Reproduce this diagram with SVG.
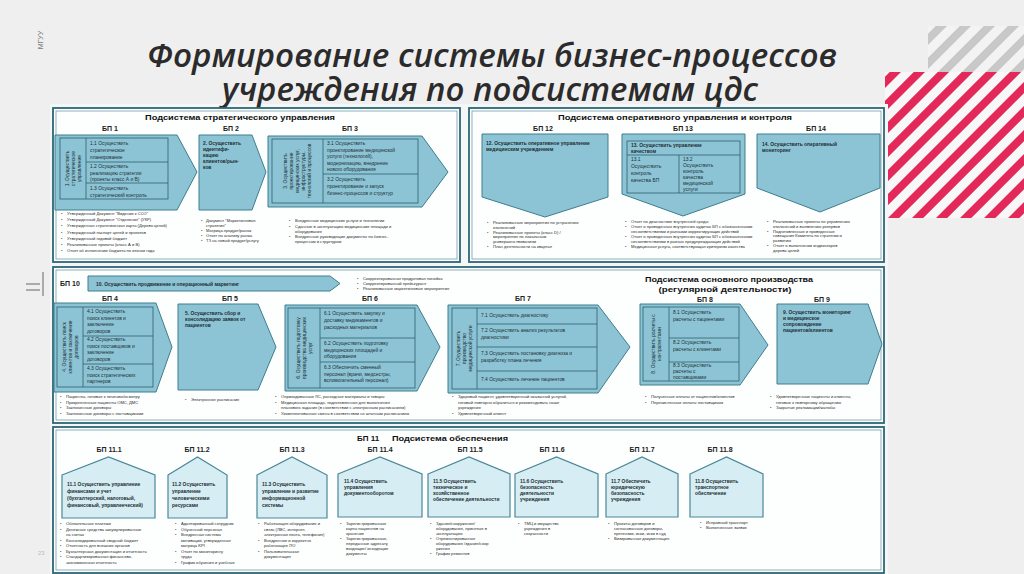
<svg xmlns="http://www.w3.org/2000/svg" width="1024" height="574" viewBox="0 0 1024 574">
<defs>
<style>
.f{font-family:"Liberation Sans",Arial,sans-serif}
.t{font-size:4.9px;fill:#1d2e33}
.tb{font-size:4.9px;font-weight:bold;fill:#1d2e33}
.bl{font-size:4.1px;fill:#2a2a2a}
.lbl{font-size:7px;font-weight:bold;fill:#222}
.hd{font-size:8px;font-weight:bold;fill:#111}
.pnl{fill:#fdfefe;stroke:#2d6776;stroke-width:1.8}
.pin{fill:none;stroke:#5f909c;stroke-width:0.7}
.sh{fill:#8cc4d5;stroke:#3d7e8e;stroke-width:1}
.in{fill:none;stroke:#2e5f6c;stroke-width:0.8}
.hs{fill:#d6edf4;stroke:#4a8797;stroke-width:1.2}
</style>
<pattern id="pg" width="17" height="17" patternUnits="userSpaceOnUse" patternTransform="rotate(45)">
<rect width="17" height="17" fill="#f3f3f3"/><rect width="8" height="17" fill="#c8c8c8"/>
</pattern>
<pattern id="pr" width="17" height="17" patternUnits="userSpaceOnUse" patternTransform="rotate(45)">
<rect width="17" height="17" fill="#f7f7f7"/><rect width="8" height="17" fill="#e3285a"/>
</pattern>
</defs>
<rect width="1024" height="574" fill="#efefef"/>
<g id="decor">
<rect x="928" y="26" width="96" height="76" fill="url(#pg)"/>
<rect x="885" y="72" width="139" height="146" fill="url(#pr)"/>
<text class="f" x="0" y="0" transform="translate(43,40) rotate(-90)" text-anchor="middle" font-size="7" fill="#777">МГУУ</text>
<line x1="26" y1="284" x2="40" y2="284" stroke="#666" stroke-width="1"/>
<line x1="26" y1="290" x2="40" y2="290" stroke="#666" stroke-width="1"/>
<line x1="43" y1="272" x2="43" y2="296" stroke="#666" stroke-width="1"/>
<text class="f" x="38" y="555" font-size="6" fill="#bbb">23</text>
</g>
<rect x="50" y="104" width="838" height="470" fill="#f5f6f6"/>
<g id="title" font-family="'Open Sans','Noto Sans',sans-serif" font-style="italic" font-weight="600" fill="#2b2b2b" font-size="33">
<text x="147" y="67" textLength="690" lengthAdjust="spacingAndGlyphs">Формирование системы бизнес-процессов</text>
<text x="222" y="101" textLength="536" lengthAdjust="spacingAndGlyphs">учреждения по подсистемам цдс</text>
</g>

<!-- Panels -->
<g id="panel-strategic">
<rect class="pnl" x="53" y="108" width="407" height="154"/>
<rect class="pin" x="56" y="111" width="401" height="148"/>
<text class="f hd" x="145" y="120" textLength="190" lengthAdjust="spacingAndGlyphs">Подсистема стратегического управления</text>
</g>
<g id="panel-operative">
<rect class="pnl" x="469" y="108" width="415" height="154"/>
<rect class="pin" x="472" y="111" width="409" height="148"/>
<text class="f hd" x="558" y="120" textLength="234" lengthAdjust="spacingAndGlyphs">Подсистема оперативного управления и контроля</text>
</g>
<g id="panel-main">
<rect class="pnl" x="53" y="267" width="831" height="156"/>
<rect class="pin" x="56" y="270" width="825" height="150"/>
<text class="f hd" x="729" y="282" text-anchor="middle" textLength="168" lengthAdjust="spacingAndGlyphs">Подсистема основного производства</text>
<text class="f hd" x="725" y="292" text-anchor="middle" textLength="133" lengthAdjust="spacingAndGlyphs">(регулярной деятельности)</text>
</g>
<g id="panel-support">
<rect class="pnl" x="53" y="427" width="831" height="146"/>
<rect class="pin" x="56" y="430" width="825" height="140"/>
<text class="f hd" x="357" y="441" font-size="8.5">БП 11</text>
<text class="f hd" x="392" y="441" font-size="8.5" textLength="116" lengthAdjust="spacingAndGlyphs">Подсистема обеспечения</text>
</g>

<!-- BP1 -->
<g id="bp1">
<text class="f lbl" x="110" y="131" text-anchor="middle">БП 1</text>
<polygon class="sh" points="55,135 177,135 197,172 177,210 55,210"/>
<rect class="in" x="60" y="138" width="108" height="61"/>
<line class="in" x1="86" y1="138" x2="86" y2="199"/>
<line class="in" x1="86" y1="162" x2="168" y2="162"/>
<line class="in" x1="86" y1="183" x2="168" y2="183"/>
<text class="f t" transform="translate(73,168.5) rotate(-90)" text-anchor="middle"><tspan x="0" y="-4.5">1. Осуществить</tspan><tspan x="0" y="1.5">стратегическое</tspan><tspan x="0" y="7.5">управление</tspan></text>
<text class="f t"><tspan x="90" y="145">1.1 Осуществить</tspan><tspan x="90" y="152">стратегическое</tspan><tspan x="90" y="159">планирование</tspan>
<tspan x="90" y="168">1.2 Осуществить</tspan><tspan x="90" y="174.5">реализацию стратегии</tspan><tspan x="90" y="181">(проекты класс А и В)</tspan>
<tspan x="90" y="190">1.3 Осуществить</tspan><tspan x="90" y="196.5">стратегический контроль</tspan></text>
<text class="f bl"><tspan x="61" y="215">•</tspan><tspan x="67" y="215">Утвержденный Документ "Видение к ССО"</tspan>
<tspan x="61" y="221.2">•</tspan><tspan x="67" y="221.2">Утвержденный Документ "Отделения" (УКР)</tspan>
<tspan x="61" y="227.4">•</tspan><tspan x="67" y="227.4">Утвержденная стратегическая карта (Дерево целей)</tspan>
<tspan x="61" y="233.6">•</tspan><tspan x="67" y="233.6">Утвержденный паспорт целей и проектов</tspan>
<tspan x="61" y="239.8">•</tspan><tspan x="67" y="239.8">Утвержденный годовой бюджет</tspan>
<tspan x="61" y="246">•</tspan><tspan x="67" y="246">Реализованные проекты (класс А и В)</tspan>
<tspan x="61" y="252.2">•</tspan><tspan x="67" y="252.2">Отчет об исполнении бюджета по итогам года</tspan></text>
</g>

<!-- BP2 -->
<g id="bp2">
<text class="f lbl" x="231" y="131" text-anchor="middle">БП 2</text>
<polygon class="sh" points="199,135 252,135 266,172 252,210 199,210"/>
<text class="f tb"><tspan x="203" y="145">2. Осуществить</tspan><tspan x="203" y="151">идентифи-</tspan><tspan x="203" y="157">кацию</tspan><tspan x="203" y="163">клиентов/рын-</tspan><tspan x="203" y="169">ков</tspan></text>
<text class="f bl"><tspan x="201" y="222">•</tspan><tspan x="206" y="222">Документ "Маркетинговая</tspan><tspan x="206" y="227">стратегия"</tspan>
<tspan x="201" y="232">•</tspan><tspan x="206" y="232">Матрица продукт/рынок</tspan>
<tspan x="201" y="237">•</tspan><tspan x="206" y="237">Отчет по анализу рынка</tspan>
<tspan x="201" y="242">•</tspan><tspan x="206" y="242">ТЗ на новый продукт/услугу</tspan></text>
</g>

<!-- BP3 -->
<g id="bp3">
<text class="f lbl" x="350" y="131" text-anchor="middle">БП 3</text>
<polygon class="sh" points="268,136 422,136 448,172 422,207 268,207"/>
<rect class="in" x="272" y="139" width="146" height="64"/>
<line class="in" x1="323" y1="139" x2="323" y2="203"/>
<line class="in" x1="323" y1="174" x2="418" y2="174"/>
<text class="f t" transform="translate(297.5,171) rotate(-90)" text-anchor="middle"><tspan x="0" y="-10.5">3. Осуществить</tspan><tspan x="0" y="-4.5">проектирование</tspan><tspan x="0" y="1.5">медицинских услуг,</tspan><tspan x="0" y="7.5">инфраструктуры,</tspan><tspan x="0" y="13.5">технологий и процессов</tspan></text>
<text class="f t"><tspan x="327" y="145">3.1 Осуществить</tspan><tspan x="327" y="151.5">проектирование медицинской</tspan><tspan x="327" y="158">услуги (технологий),</tspan><tspan x="327" y="164.5">модернизацию, внедрение</tspan><tspan x="327" y="171">нового оборудования</tspan>
<tspan x="327" y="181">3.2 Осуществить</tspan><tspan x="327" y="188">проектирование и запуск</tspan><tspan x="327" y="195">бизнес-процессов и структур</tspan></text>
<text class="f bl"><tspan x="289" y="222">•</tspan><tspan x="295" y="222">Внедренные медицинские услуги и технологии</tspan>
<tspan x="289" y="227.5">•</tspan><tspan x="295" y="227.5">Сданные в эксплуатацию медицинские площади и</tspan><tspan x="295" y="232.5">оборудование</tspan>
<tspan x="289" y="238">•</tspan><tspan x="295" y="238">Внедренные руководящие документы по бизнес-</tspan><tspan x="295" y="243">процессам и структурам</tspan></text>
</g>

<!-- BP12 -->
<g id="bp12">
<text class="f lbl" x="543" y="131" text-anchor="middle">БП 12</text>
<polygon class="sh" points="482,134 608,134 608,197 545,217 482,197"/>
<text class="f tb"><tspan x="486" y="145">12. Осуществить оперативное управление</tspan><tspan x="486" y="151">медицинским учреждением</tspan></text>
<text class="f bl"><tspan x="487" y="224">•</tspan><tspan x="493" y="224">Реализованные мероприятия по устранению</tspan><tspan x="493" y="228.8">отклонений</tspan>
<tspan x="487" y="233.6">•</tspan><tspan x="493" y="233.6">Реализованные проекты (класс D) /</tspan><tspan x="493" y="238.4">мероприятия по локальным</tspan><tspan x="493" y="243.2">усовершенствованиям</tspan>
<tspan x="487" y="248">•</tspan><tspan x="493" y="248">План деятельности на квартал</tspan></text>
</g>

<!-- BP13 -->
<g id="bp13">
<text class="f lbl" x="683" y="131" text-anchor="middle">БП 13</text>
<polygon class="sh" points="622,134 745,134 745,194 683,216 622,194"/>
<rect class="in" x="627" y="141" width="113" height="52"/>
<line class="in" x1="627" y1="155" x2="740" y2="155"/>
<line class="in" x1="679" y1="155" x2="679" y2="193"/>
<text class="f tb"><tspan x="631" y="147">13. Осуществить управление</tspan><tspan x="631" y="153">качеством</tspan></text>
<text class="f t"><tspan x="631" y="161">13.1</tspan><tspan x="631" y="168">Осуществить</tspan><tspan x="631" y="175">контроль</tspan><tspan x="631" y="182">качества БП</tspan>
<tspan x="683" y="161">13.2</tspan><tspan x="683" y="167">Осуществить</tspan><tspan x="683" y="173">контроль</tspan><tspan x="683" y="179">качества</tspan><tspan x="683" y="185">медицинской</tspan><tspan x="683" y="191">услуги</tspan></text>
<text class="f bl"><tspan x="625" y="223">•</tspan><tspan x="631" y="223">Отчет по диагностике внутренней среды</tspan>
<tspan x="625" y="228">•</tspan><tspan x="631" y="228">Отчет о проведенных внутренних аудитах БП с обозначенными</tspan><tspan x="631" y="233">несоответствиями и разными корректирующих действий</tspan>
<tspan x="625" y="238">•</tspan><tspan x="631" y="238">Отчет о проведенных внутренних аудитах БП с обозначенными</tspan><tspan x="631" y="243">несоответствиями в разных предупреждающих действий</tspan>
<tspan x="625" y="248">•</tspan><tspan x="631" y="248">Медицинская услуга, соответствующая критериям качества</tspan></text>
</g>

<!-- BP14 -->
<g id="bp14">
<text class="f lbl" x="816" y="131" text-anchor="middle">БП 14</text>
<polygon class="sh" points="757,134 880,134 880,188 820,212 757,188"/>
<text class="f tb"><tspan x="762" y="146">14. Осуществить оперативный</tspan><tspan x="762" y="152">мониторинг</tspan></text>
<text class="f bl"><tspan x="767" y="223">•</tspan><tspan x="773" y="223">Реализованные проекты по управлению</tspan><tspan x="773" y="227.8">отклонений и выявлению резервов</tspan>
<tspan x="767" y="232.6">•</tspan><tspan x="773" y="232.6">Подготовленные и проведенные</tspan><tspan x="773" y="237.4">совещания Комитета по стратегии и</tspan><tspan x="773" y="242.2">развитию</tspan>
<tspan x="767" y="247">•</tspan><tspan x="773" y="247">Отчет о выполнении индикаторов</tspan><tspan x="773" y="251.8">дерева целей</tspan></text>
</g>

<!-- BP10 -->
<g id="bp10">
<text class="f lbl" x="60" y="286">БП 10</text>
<polygon class="sh" points="88,276 330,276 340,283.5 330,291 88,291"/>
<text class="f tb" x="96" y="285.5">10. Осуществить продвижение и операционный маркетинг</text>
<text class="f bl"><tspan x="357" y="280">•</tspan><tspan x="363" y="280">Скорректированная продуктовая линейка</tspan>
<tspan x="357" y="285">•</tspan><tspan x="363" y="285">Скорректированный прейскурант</tspan>
<tspan x="357" y="290">•</tspan><tspan x="363" y="290">Реализованные маркетинговые мероприятия</tspan></text>
</g>

<!-- BP4 -->
<g id="bp4">
<text class="f lbl" x="110" y="301" text-anchor="middle">БП 4</text>
<polygon class="sh" points="54,303 156,303 172,347 156,392 54,392"/>
<rect class="in" x="57" y="307" width="96" height="80"/>
<line class="in" x1="83" y1="307" x2="83" y2="387"/>
<line class="in" x1="83" y1="336" x2="153" y2="336"/>
<line class="in" x1="83" y1="364" x2="153" y2="364"/>
<text class="f t" transform="translate(70,347) rotate(-90)" text-anchor="middle"><tspan x="0" y="-4.5">4. Осуществить поиск</tspan><tspan x="0" y="1.5">клиентов и заключение</tspan><tspan x="0" y="7.5">договоров</tspan></text>
<text class="f t"><tspan x="87" y="313">4.1 Осуществить</tspan><tspan x="87" y="319.5">поиск клиентов и</tspan><tspan x="87" y="326">заключение</tspan><tspan x="87" y="332.5">договоров</tspan>
<tspan x="87" y="341">4.2 Осуществить</tspan><tspan x="87" y="347.5">поиск поставщиков и</tspan><tspan x="87" y="354">заключение</tspan><tspan x="87" y="360.5">договоров</tspan>
<tspan x="87" y="370">4.3 Осуществить</tspan><tspan x="87" y="376.5">поиск стратегических</tspan><tspan x="87" y="383">партнеров</tspan></text>
<text class="f bl"><tspan x="60" y="398">•</tspan><tspan x="66" y="398">Пациенты, готовые к лечению/осмотру</tspan>
<tspan x="60" y="403.5">•</tspan><tspan x="66" y="403.5">Прикрепленные пациенты ОМС, ДМС</tspan>
<tspan x="60" y="409">•</tspan><tspan x="66" y="409">Заключенные договоры</tspan>
<tspan x="60" y="414.5">•</tspan><tspan x="66" y="414.5">Заключенные договоры с поставщиками</tspan></text>
</g>

<!-- BP5 -->
<g id="bp5">
<text class="f lbl" x="230" y="301" text-anchor="middle">БП 5</text>
<polygon class="sh" points="178,304 258,304 276,347 258,390 178,390"/>
<text class="f tb"><tspan x="185" y="315">5. Осуществить сбор и</tspan><tspan x="185" y="321">консолидацию заявок от</tspan><tspan x="185" y="327">пациентов</tspan></text>
<text class="f bl"><tspan x="185" y="401">•</tspan><tspan x="191" y="401">Электронное расписание</tspan></text>
</g>

<!-- BP6 -->
<g id="bp6">
<text class="f lbl" x="370" y="301" text-anchor="middle">БП 6</text>
<polygon class="sh" points="285,305 417,305 440,347 417,391 285,391"/>
<rect class="in" x="288" y="308" width="127" height="80"/>
<line class="in" x1="320" y1="308" x2="320" y2="388"/>
<line class="in" x1="320" y1="338" x2="415" y2="338"/>
<line class="in" x1="320" y1="362" x2="415" y2="362"/>
<text class="f t" transform="translate(304,348) rotate(-90)" text-anchor="middle"><tspan x="0" y="-4.5">6. Осуществить подготовку</tspan><tspan x="0" y="1.5">производства медицинских</tspan><tspan x="0" y="7.5">услуг</tspan></text>
<text class="f t"><tspan x="324" y="315">6.1 Осуществить закупку и</tspan><tspan x="324" y="322">доставку медикаментов и</tspan><tspan x="324" y="329">расходных материалов</tspan>
<tspan x="324" y="345">6.2 Осуществить подготовку</tspan><tspan x="324" y="351.5">медицинских площадей и</tspan><tspan x="324" y="358">оборудования</tspan>
<tspan x="324" y="369">6.3 Обеспечить сменный</tspan><tspan x="324" y="375.5">персонал (врачи, медсестры,</tspan><tspan x="324" y="382">вспомогательный персонал)</tspan></text>
<text class="f bl"><tspan x="275" y="398">•</tspan><tspan x="281" y="398">Оприходованные ЛС, расходные материалы и товары</tspan>
<tspan x="275" y="403.5">•</tspan><tspan x="281" y="403.5">Медицинская площадь, подготовленная для выполнения</tspan><tspan x="281" y="409">планового задания (в соответствии с электронным расписанием)</tspan>
<tspan x="275" y="414.5">•</tspan><tspan x="281" y="414.5">Укомплектованная смена в соответствии со штатным расписанием</tspan></text>
</g>

<!-- BP7 -->
<g id="bp7">
<text class="f lbl" x="523" y="301" text-anchor="middle">БП 7</text>
<polygon class="sh" points="448,305 598,305 630,347 598,393 448,393"/>
<rect class="in" x="452" y="308" width="145" height="81"/>
<line class="in" x1="477" y1="308" x2="477" y2="389"/>
<line class="in" x1="477" y1="324" x2="597" y2="324"/>
<line class="in" x1="477" y1="347" x2="597" y2="347"/>
<line class="in" x1="477" y1="371" x2="597" y2="371"/>
<text class="f t" transform="translate(464.5,348.5) rotate(-90)" text-anchor="middle"><tspan x="0" y="-4.5">7. Осуществить</tspan><tspan x="0" y="1.5">производство</tspan><tspan x="0" y="7.5">медицинской услуги</tspan></text>
<text class="f t"><tspan x="481" y="317">7.1 Осуществить диагностику</tspan>
<tspan x="481" y="332">7.2 Осуществить анализ результатов</tspan><tspan x="481" y="339">диагностики</tspan>
<tspan x="481" y="355">7.3 Осуществить постановку диагноза и</tspan><tspan x="481" y="362">разработку плана лечения</tspan>
<tspan x="481" y="381">7.4 Осуществить лечение пациентов</tspan></text>
<text class="f bl"><tspan x="452" y="398">•</tspan><tspan x="458" y="398">Здоровый пациент, удовлетворенный оказанной услугой,</tspan><tspan x="458" y="403.5">готовый повторно обратиться и рекомендовать наше</tspan><tspan x="458" y="409">учреждение</tspan>
<tspan x="452" y="414.5">•</tspan><tspan x="458" y="414.5">Удовлетворенный клиент</tspan></text>
</g>

<!-- BP8 -->
<g id="bp8">
<text class="f lbl" x="705" y="301.5" text-anchor="middle">БП 8</text>
<polygon class="sh" points="640,304 740,304 768,345 740,385 640,385"/>
<rect class="in" x="643" y="307" width="96" height="74"/>
<line class="in" x1="669" y1="307" x2="669" y2="381"/>
<line class="in" x1="669" y1="338" x2="739" y2="338"/>
<line class="in" x1="669" y1="362" x2="739" y2="362"/>
<text class="f t" transform="translate(656,344) rotate(-90)" text-anchor="middle"><tspan x="0" y="-1.5">8. Осуществить расчеты с</tspan><tspan x="0" y="4.5">контрагентами</tspan></text>
<text class="f t"><tspan x="673" y="314">8.1 Осуществить</tspan><tspan x="673" y="320.5">расчеты с пациентами</tspan>
<tspan x="673" y="344">8.2 Осуществить</tspan><tspan x="673" y="350.5">расчеты с клиентами</tspan>
<tspan x="673" y="367">8.3 Осуществить</tspan><tspan x="673" y="373">расчеты с</tspan><tspan x="673" y="379">поставщиками</tspan></text>
<text class="f bl"><tspan x="645" y="398">•</tspan><tspan x="651" y="398">Полученные оплаты от пациентов/клиентов</tspan>
<tspan x="645" y="403.5">•</tspan><tspan x="651" y="403.5">Перечисленные оплаты поставщикам</tspan></text>
</g>

<!-- BP9 -->
<g id="bp9">
<text class="f lbl" x="822" y="301.5" text-anchor="middle">БП 9</text>
<polygon class="sh" points="777,304 868,304 882,344 868,384 777,384"/>
<text class="f tb"><tspan x="783" y="314">9. Осуществить мониторинг</tspan><tspan x="783" y="320">и медицинское</tspan><tspan x="783" y="326">сопровождение</tspan><tspan x="783" y="332">пациентов/клиентов</tspan></text>
<text class="f bl"><tspan x="770" y="398">•</tspan><tspan x="776" y="398">Удовлетворенные пациенты и клиенты,</tspan><tspan x="776" y="403.5">готовые к повторному обращению</tspan>
<tspan x="770" y="409">•</tspan><tspan x="776" y="409">Закрытые рекламации/жалобы</tspan></text>
</g>

<!-- Support houses -->
<g id="bp11-1">
<text class="f lbl" x="109" y="452" text-anchor="middle">БП 11.1</text>
<polygon class="hs" points="62,475 108.5,457 155,475 155,518 62,518"/>
<text class="f tb"><tspan x="67" y="486">11.1 Осуществить управление</tspan><tspan x="67" y="493">финансами и учет</tspan><tspan x="67" y="500">(бухгалтерский, налоговый,</tspan><tspan x="67" y="507">финансовый, управленческий)</tspan></text>
<text class="f bl"><tspan x="60" y="525">•</tspan><tspan x="66" y="525">Обязательные платежи</tspan>
<tspan x="60" y="530.5">•</tspan><tspan x="66" y="530.5">Денежные средства аккумулированные</tspan><tspan x="66" y="536">на счетах</tspan>
<tspan x="60" y="541.5">•</tspan><tspan x="66" y="541.5">Консолидированный сводный бюджет</tspan>
<tspan x="60" y="547">•</tspan><tspan x="66" y="547">Отчетность для внешних органов</tspan>
<tspan x="60" y="552.5">•</tspan><tspan x="66" y="552.5">Бухгалтерская документация и отчетность</tspan>
<tspan x="60" y="558">•</tspan><tspan x="66" y="558">Стандартизированная финансово-</tspan><tspan x="66" y="563.5">экономическая отчетность</tspan></text>
</g>
<g id="bp11-2">
<text class="f lbl" x="197" y="452" text-anchor="middle">БП 11.2</text>
<polygon class="hs" points="168,475 197.5,457 227,475 227,518 168,518"/>
<text class="f tb"><tspan x="172" y="486">11.2 Осуществить</tspan><tspan x="172" y="493">управление</tspan><tspan x="172" y="500">человеческими</tspan><tspan x="172" y="507">ресурсами</tspan></text>
<text class="f bl"><tspan x="175" y="525">•</tspan><tspan x="181" y="525">Адаптированный сотрудник</tspan>
<tspan x="175" y="530.5">•</tspan><tspan x="181" y="530.5">Обученный персонал</tspan>
<tspan x="175" y="536">•</tspan><tspan x="181" y="536">Внедренная система</tspan><tspan x="181" y="541.5">мотивации, утвержденная</tspan><tspan x="181" y="547">матрица KPI</tspan>
<tspan x="175" y="552.5">•</tspan><tspan x="181" y="552.5">Отчет по мониторингу</tspan><tspan x="181" y="558">труда</tspan>
<tspan x="175" y="563.5">•</tspan><tspan x="181" y="563.5">График обучения и учебные</tspan></text>
</g>
<g id="bp11-3">
<text class="f lbl" x="292" y="452" text-anchor="middle">БП 11.3</text>
<polygon class="hs" points="257,475 292,457 327,475 327,518 257,518"/>
<text class="f tb"><tspan x="262" y="486">11.3 Осуществить</tspan><tspan x="262" y="493">управление и развитие</tspan><tspan x="262" y="500">информационной</tspan><tspan x="262" y="507">системы</tspan></text>
<text class="f bl"><tspan x="258" y="525">•</tspan><tspan x="264" y="525">Работающее оборудование и</tspan><tspan x="264" y="530.5">связь (ЛВС, интернет,</tspan><tspan x="264" y="536">электронная почта, телефония)</tspan>
<tspan x="258" y="541.5">•</tspan><tspan x="264" y="541.5">Внедренное и корректно</tspan><tspan x="264" y="547">работающее ПО</tspan>
<tspan x="258" y="552.5">•</tspan><tspan x="264" y="552.5">Пользовательская</tspan><tspan x="264" y="558">документация</tspan></text>
</g>
<g id="bp11-4">
<text class="f lbl" x="380" y="452" text-anchor="middle">БП 11.4</text>
<polygon class="hs" points="338,474 380,457 422,474 422,517 338,517"/>
<text class="f tb"><tspan x="344" y="483">11.4 Осуществить</tspan><tspan x="344" y="489">управления</tspan><tspan x="344" y="495">документооборотом</tspan></text>
<text class="f bl"><tspan x="340" y="525">•</tspan><tspan x="346" y="525">Зарегистрированные</tspan><tspan x="346" y="530">карты пациентов на</tspan><tspan x="346" y="535">хранение</tspan>
<tspan x="340" y="540">•</tspan><tspan x="346" y="540">Зарегистрированные,</tspan><tspan x="346" y="545">переданные адресату</tspan><tspan x="346" y="550">входящие/ исходящие</tspan><tspan x="346" y="555">документы</tspan></text>
</g>
<g id="bp11-5">
<text class="f lbl" x="470" y="452" text-anchor="middle">БП 11.5</text>
<polygon class="hs" points="428,474 469,457 510,474 510,517 428,517"/>
<text class="f tb"><tspan x="433" y="483">11.5 Осуществить</tspan><tspan x="433" y="489">техническое и</tspan><tspan x="433" y="495">хозяйственное</tspan><tspan x="433" y="501">обеспечение деятельности</tspan></text>
<text class="f bl"><tspan x="430" y="525">•</tspan><tspan x="436" y="525">Здания/сооружения/</tspan><tspan x="436" y="530">оборудование, принятые в</tspan><tspan x="436" y="535">эксплуатацию</tspan>
<tspan x="430" y="540">•</tspan><tspan x="436" y="540">Отремонтированное</tspan><tspan x="436" y="545">оборудование /здания/соор</tspan><tspan x="436" y="550">ужения</tspan>
<tspan x="430" y="555">•</tspan><tspan x="436" y="555">График ремонтов</tspan></text>
</g>
<g id="bp11-6">
<text class="f lbl" x="552" y="452" text-anchor="middle">БП 11.6</text>
<polygon class="hs" points="515,474 556.5,457 598,474 598,517 515,517"/>
<text class="f tb"><tspan x="520" y="483">11.6 Осуществить</tspan><tspan x="520" y="489">безопасность</tspan><tspan x="520" y="495">деятельности</tspan><tspan x="520" y="501">учреждения</tspan></text>
<text class="f bl"><tspan x="518" y="525">•</tspan><tspan x="524" y="525">ТМЦ и имущество</tspan><tspan x="524" y="530">учреждения в</tspan><tspan x="524" y="535">сохранности</tspan></text>
</g>
<g id="bp11-7">
<text class="f lbl" x="642" y="452" text-anchor="middle">БП 11.7</text>
<polygon class="hs" points="606,474 642,457 678,474 678,517 606,517"/>
<text class="f tb"><tspan x="611" y="483">11.7 Обеспечить</tspan><tspan x="611" y="489">юридическую</tspan><tspan x="611" y="495">безопасность</tspan><tspan x="611" y="501">учреждения</tspan></text>
<text class="f bl"><tspan x="608" y="525">•</tspan><tspan x="614" y="525">Проекты договоров и</tspan><tspan x="614" y="530">согласованные договоры,</tspan><tspan x="614" y="535">претензии, иски, иски в суд</tspan>
<tspan x="608" y="540">•</tspan><tspan x="614" y="540">Визированная документация</tspan></text>
</g>
<g id="bp11-8">
<text class="f lbl" x="720" y="452" text-anchor="middle">БП 11.8</text>
<polygon class="hs" points="690,474 726.5,457 763,474 763,517 690,517"/>
<text class="f tb"><tspan x="695" y="483">11.8 Осуществить</tspan><tspan x="695" y="489">транспортное</tspan><tspan x="695" y="495">обеспечение</tspan></text>
<text class="f bl"><tspan x="700" y="524">•</tspan><tspan x="706" y="524">Исправный транспорт</tspan>
<tspan x="700" y="529">•</tspan><tspan x="706" y="529">Выполненные заявки</tspan></text>
</g>
<g id="connectors"></g>
</svg>
